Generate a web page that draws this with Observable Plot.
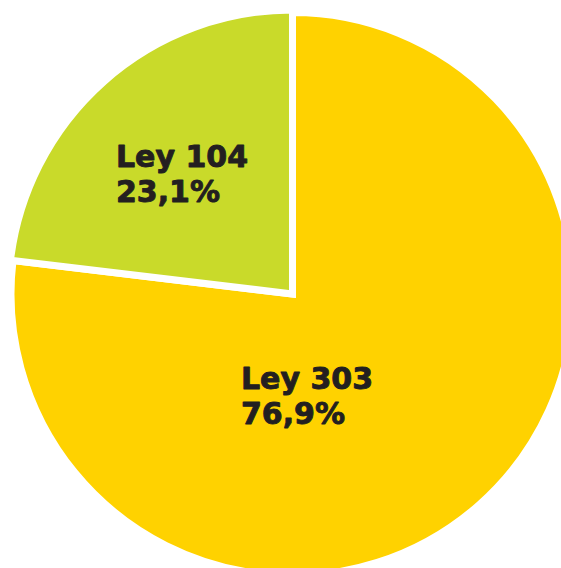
<!DOCTYPE html>
<html>
<head>
<meta charset="utf-8">
<script src="https://cdn.jsdelivr.net/npm/d3@7"></script>
<script src="https://cdn.jsdelivr.net/npm/@observablehq/plot@0.6"></script>
<style>
  html, body { margin: 0; padding: 0; background: #ffffff; }
  #chart svg { display: block; }
</style>
</head>
<body>
<div id="chart"></div>
<script>
// ---- data ----
const categories = ["Ley 303", "Ley 104"];
const values = [76.9, 23.1];
const percentLabels = ["76,9%", "23,1%"];
const colors = ["#FFD200", "#C9DA2A"];

// ---- layout (unit circle coordinates) ----
const labelAnchors = { "Ley 303": [-0.185, -0.459], "Ley 104": [-0.629, 0.328] };
const radiusFactor = { "Ley 303": 1.0, "Ley 104": 1.009 };

const slices = categories.map((c, i) => ({ category: c, value: values[i], pct: percentLabels[i] }));
const labels = slices.map(d => ({
  category: d.category,
  text: d.category + "\n" + d.pct,
  x: labelAnchors[d.category][0],
  y: labelAnchors[d.category][1]
}));

const pie = d3.pie().sort(null).value(d => d.value).startAngle(0).endAngle(2 * Math.PI);

function pieMark(index, scales, values, dimensions) {
  const cx = scales.x(0), cy = scales.y(0);
  const R = scales.x(1) - scales.x(0);
  const g = d3.create("svg:g");
  const arcs = pie(slices);
  g.selectAll("path")
    .data(arcs)
    .join("path")
    .attr("d", a => d3.arc().innerRadius(0).outerRadius(R * radiusFactor[a.data.category])(a))
    .attr("transform", `translate(${cx},${cy})`)
    .attr("fill", a => scales.color(a.data.category))
    .attr("stroke", "#ffffff")
    .attr("stroke-width", 7)
    .attr("stroke-linejoin", "miter");
  return g.node();
}

const chart = Plot.plot({
  width: 561,
  height: 568,
  margin: 0,
  x: { domain: [-1, 1], range: [11, 574], axis: null },
  y: { domain: [-1, 1], range: [575.5, 12.5], axis: null },
  color: { domain: categories, range: colors },
  style: { background: "#ffffff", overflow: "hidden" },
  marks: [
    pieMark,
    Plot.text(labels, {
      x: "x",
      y: "y",
      text: "text",
      textAnchor: "start",
      lineAnchor: "bottom",
      lineHeight: 1.1667,
      fontSize: 30,
      fontWeight: "bold",
      fontFamily: "DejaVu Sans",
      fill: "#231F20",
      stroke: "#231F20",
      strokeWidth: 0.9
    })
  ]
});

document.getElementById("chart").appendChild(chart);
</script>
</body>
</html>
